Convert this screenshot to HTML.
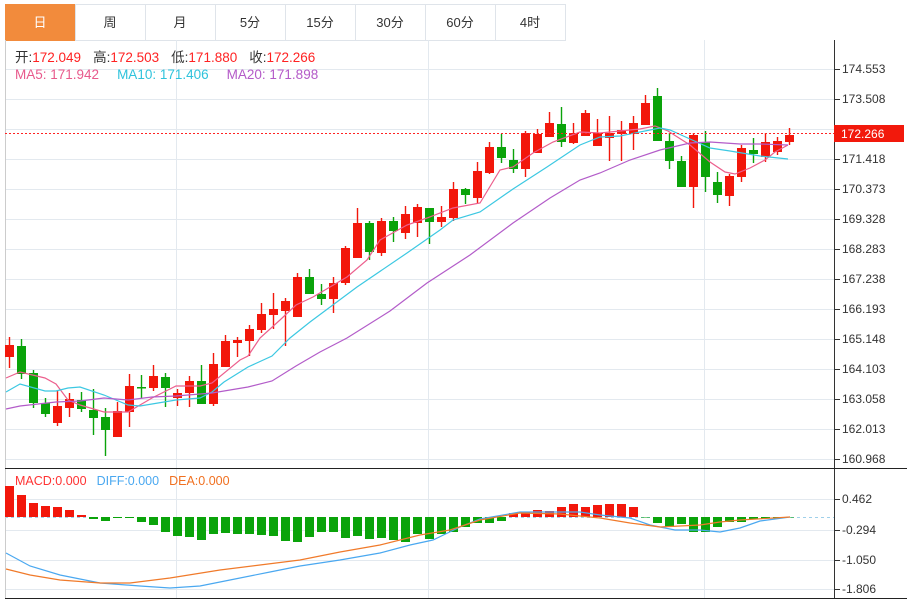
<!DOCTYPE html>
<html><head><meta charset="utf-8"><style>
body{margin:0;width:907px;height:601px;background:#fff;overflow:hidden;font-family:"Liberation Sans","Noto Sans CJK SC",sans-serif}
svg{position:absolute;left:0;top:0}
</style></head><body>
<svg id="s" width="907" height="601" xmlns="http://www.w3.org/2000/svg" font-family="Liberation Sans, Noto Sans CJK SC, sans-serif">
<rect x="0" y="0" width="907" height="601" fill="#fff"/>
<g stroke="#dfe4ea" fill="#fff">
<rect x="5.5" y="4.5" width="70" height="36" fill="#f28b3c" stroke="#f28b3c"/>
<rect x="75.5" y="4.5" width="70" height="36"/><rect x="145.5" y="4.5" width="70" height="36"/>
<rect x="215.5" y="4.5" width="70" height="36"/><rect x="285.5" y="4.5" width="70" height="36"/>
<rect x="355.5" y="4.5" width="70" height="36"/><rect x="425.5" y="4.5" width="70" height="36"/>
<rect x="495.5" y="4.5" width="70" height="36"/>
</g>
<g font-size="13" text-anchor="middle" fill="#333">
<text x="40" y="27" fill="#fff">日</text><text x="110" y="27">周</text><text x="180" y="27">月</text>
<text x="250" y="27">5分</text><text x="320" y="27">15分</text><text x="390" y="27">30分</text>
<text x="460" y="27">60分</text><text x="530" y="27">4时</text>
</g>
<g id="grid" stroke="#e3e9ef" stroke-width="1"></g>
<line x1="5.5" y1="40" x2="5.5" y2="598" stroke="#ccc"/>
<line x1="834.5" y1="40" x2="834.5" y2="598" stroke="#333"/>
<line x1="5" y1="468.5" x2="907" y2="468.5" stroke="#222"/>
<line x1="5" y1="598.5" x2="907" y2="598.5" stroke="#222"/>
<g id="axis" font-size="12" fill="#333"></g>
<g id="candles"></g>
<g id="lines" fill="none" stroke-width="1.2"></g>
<line x1="5" y1="133.5" x2="834" y2="133.5" stroke="#f22" stroke-dasharray="2,2"/>
<rect x="834" y="125" width="70" height="17" fill="#f2190c"/>
<text x="841" y="138" font-size="12" fill="#fff">172.266</text>
<g font-size="13.5">
<text x="15" y="62" fill="#333">开:<tspan fill="#f22">172.049</tspan><tspan fill="#333" dx="12">高:</tspan><tspan fill="#f22">172.503</tspan><tspan fill="#333" dx="12">低:</tspan><tspan fill="#f22">171.880</tspan><tspan fill="#333" dx="12">收:</tspan><tspan fill="#f22">172.266</tspan></text>
<text x="15" y="79" fill="#e85a8c">MA5: 171.942<tspan fill="#2fc3dc" dx="18">MA10: 171.406</tspan><tspan fill="#b45ac8" dx="18">MA20: 171.898</tspan></text>
<text x="15" y="485" fill="#f33" font-size="12.5">MACD:0.000<tspan fill="#4aa8f0" dx="10">DIFF:0.000</tspan><tspan fill="#f07020" dx="10">DEA:0.000</tspan></text>
</g>
</svg>
<script>
var NS="http://www.w3.org/2000/svg";
function el(p,t,a){var e=document.createElementNS(NS,t);for(var k in a)e.setAttribute(k,a[k]);document.getElementById(p).appendChild(e);return e;}
var ys=[69,99,129,159,189,219,249,279,309,339,369,399,429,459];
var lab=["174.553","173.508","172.463","171.418","170.373","169.328","168.283","167.238","166.193","165.148","164.103","163.058","162.013","160.968"];
ys.forEach(function(y,i){el("grid","line",{x1:5,y1:y+.5,x2:834,y2:y+.5});el("axis","line",{x1:834,y1:y+.5,x2:840,y2:y+.5,stroke:"#333"});
if(i!=2){var t=el("axis","text",{x:842,y:y+4});t.textContent=lab[i];}});
[499,530,560,589].forEach(function(y,i){el("grid","line",{x1:5,y1:y+.5,x2:834,y2:y+.5});el("axis","line",{x1:834,y1:y+.5,x2:840,y2:y+.5,stroke:"#333"});
var t=el("axis","text",{x:842,y:y+4});t.textContent=["0.462","-0.294","-1.050","-1.806"][i];});
[176,428,704].forEach(function(x){el("grid","line",{x1:x+.5,y1:40,x2:x+.5,y2:598});});
el("grid","line",{x1:5,y1:517.5,x2:834,y2:517.5,stroke:"#9fd0ea","stroke-dasharray":"3,3"});
var C=[["r",345,357,337,368],["g",346,374,339,379],["g",373,403,370,408],["g",403,414,398,417],["r",406,423,390,426],["r",399,408,393,417],["g",400,409,392,412],["g",410,418,389,435],["g",417,430,408,456],["r",411,437,402,437],
["r",386,412,374,427],["g",387,388,375,398],["r",376,388,365,391],["g",377,388,373,407],["r",393,398,389,406],["r",381,393,376,407],["g",381,404,365,404],["r",364,404,353,406],["r",341,367,335,367],["r",340,343,337,357],
["r",329,341,325,356],["r",314,330,303,333],["r",309,315,293,329],["r",301,311,298,346],["r",277,317,273,317],["g",277,294,269,294],["g",294,299,284,305],["r",283,299,277,313],["r",248,283,246,285],["r",223,258,208,258],
["g",223,252,221,260],["r",221,253,218,256],["g",221,231,217,242],["r",214,233,206,239],["r",207,223,204,237],["g",208,222,208,244],["r",217,222,206,227],["r",189,218,182,221],["g",189,195,188,204],["r",171,198,162,203],
["r",147,173,142,174],["g",147,158,134,163],["g",160,169,149,173],["r",133,169,131,177],["r",134,153,129,153],["r",123,137,112,137],["g",124,142,107,147],["r",133,143,123,144],["r",113,136,110,136],["r",133,146,119,146],
["r",133,138,116,161],["r",130,134,121,161],["r",123,134,116,150],["r",103,125,95,125],["g",96,141,88,141],["g",141,161,133,169],["g",161,187,156,187],["r",135,187,133,208],["g",142,177,131,192],["g",182,195,172,203],
["r",176,196,174,206],["r",148,177,145,182],["g",150,154,138,163],["r",142,157,133,162],["r",141,152,137,155],["r",135,142,128,145]];
var RED="#f2170b",GRN="#0aa30a";
C.forEach(function(c,i){var x=9+12*i,col=c[0]=="r"?RED:GRN;
el("candles","line",{x1:x+.5,y1:c[3],x2:x+.5,y2:c[4],stroke:col,"stroke-width":1.4});
el("candles","rect",{x:x-4,y:c[1],width:9,height:Math.max(1.5,c[2]-c[1]),fill:col});});
var H=[486,495,503,506,507,510,515,519,521,518,518,522,525,532,536,537,540,534,533,534,534,535,536,541,542,537,532,532,538,536,539,538,540,542,534,539,534,532,527,523,523,521,513,512,510,511,507,504,507,505,504,504,507,517.5,523,527,524,532,532,527,522,522,519,518.5,518,517.5];
H.forEach(function(v,i){var x=9+12*i,col=v<517?RED:GRN;var y0=Math.min(v,517),h=Math.abs(v-517);
if(h>0.3)el("candles","rect",{x:x-4,y:y0,width:9,height:h,fill:col});});
function pl(pts,col){el("lines","polyline",{points:pts,stroke:col});}
pl("6,378 20,372 45,378 56,384 68,400 80,405 104,412 116,412 128,412 152,398 176,386 200,386 212,383 240,360 248,356 260,338 280,320 296,305 313,297 347,277 367,260 380,240 407,225 427,218 453,208 480,203 500,170 513,167 533,153 553,142 580,132 600,133 620,131 640,129 655,126 668,131 690,145 710,162 725,172 735,174 750,168 765,160 775,152 788,145","#ec5f8d");
pl("6,392 20,384 45,391 56,391 68,388 80,387 104,395 128,405 140,406 152,404 176,400 200,398 212,392 224,382 248,367 272,356 290,338 310,322 357,287 407,253 440,230 453,220 480,212 513,189 547,167 580,145 600,137 620,136 640,132 660,128 670,130 690,139 710,148 730,151 760,156 788,159","#3cc8e2");
pl("6,409 20,406 56,402 80,401 104,398 128,400 152,397 176,396 212,393 248,387 272,381 296,366 320,352 347,338 390,311 427,283 470,255 513,223 550,198 580,180 600,173 630,160 660,150 690,143 710,142 740,144 760,144 788,145","#b35cc9");
pl("6,553 30,566 60,575 100,583 140,586 170,588 200,586 230,580 270,572 300,566 340,560 380,553 410,545 433,540 460,527 480,519 520,512 580,512 600,515 630,518 650,525 675,530 700,530 720,532 740,528 760,521 790,517","#4aa8f0");
pl("6,569 30,575 60,580 100,583 130,583 170,578 220,570 260,565 300,560 340,552 380,545 420,535 450,530 480,520 520,513 560,514 600,518 630,523 660,527 700,525 720,522 740,520 790,517","#f07a2a");
</script>
</body></html>
